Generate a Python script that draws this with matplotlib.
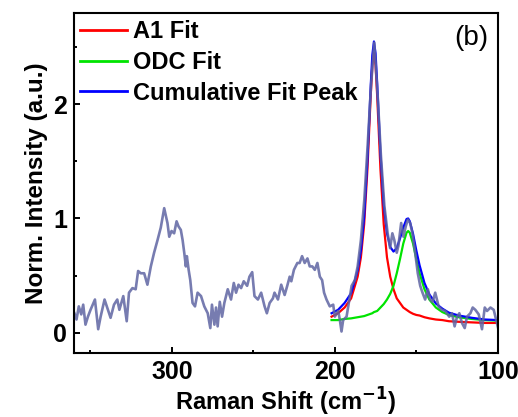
import matplotlib
matplotlib.use("Agg")
import matplotlib.pyplot as plt
from matplotlib.ticker import MultipleLocator

plt.rcParams['font.family'] = ['Liberation Sans', 'DejaVu Sans']

raman_x = [359.8, 358.5, 357.1, 355.6, 354.4, 353.0, 351.5, 349.9, 347.2, 345.2,
           343.7, 341.3, 339.2, 337.6, 335.5, 333.5, 332.2, 329.8, 327.7, 326.3,
           324.2, 322.2, 320.7, 319.1, 317.0, 315.0, 312.9, 310.9, 308.8, 306.8,
           304.7, 302.7, 301.6, 300.2, 298.6, 297.1, 295.9, 294.5, 293.4, 292.4,
           291.4, 290.8, 289.7, 288.7, 287.3, 285.8, 284.2, 282.1, 280.1, 278.0,
           276.4, 275.4, 273.9, 272.9, 271.9, 270.6, 269.2, 267.8, 265.7, 263.7,
           262.0, 260.6, 259.1, 257.5, 255.9, 253.8, 252.4, 250.7, 249.3, 247.2,
           245.2, 243.1, 241.7, 240.0, 238.0, 237.0, 234.9, 232.9, 230.8, 229.2,
           227.7, 226.7, 225.1, 223.0, 221.6, 220.1, 218.5, 216.8, 215.4, 213.8,
           212.3, 210.7, 209.2, 207.8, 206.6, 205.1, 203.1, 201.0, 200.0, 197.9,
           196.9, 195.9, 194.9, 192.8, 191.4, 189.7, 187.7, 186.0, 184.0, 181.9,
           179.9, 177.8, 175.8, 173.7, 171.7, 169.6, 167.6, 166.1, 164.7, 163.5,
           162.0, 161.0, 159.3, 157.9, 156.5, 155.2, 153.8, 152.4, 150.7, 149.1,
           147.6, 146.2, 144.6, 142.9, 141.5, 140.0, 138.4, 136.3, 134.3, 132.2,
           129.8, 128.1, 126.5, 125.0, 123.6, 122.0, 120.3, 118.9, 116.8, 115.4,
           113.8, 111.7, 109.7, 108.0, 106.6, 104.5, 102.5, 101.0, 99.8]
raman_y = [0.17, 0.115, 0.23, 0.16, 0.245, 0.07, 0.14, 0.20, 0.29, 0.03,
           0.14, 0.29, 0.20, 0.13, 0.245, 0.29, 0.20, 0.32, 0.10, 0.35,
           0.39, 0.38, 0.54, 0.52, 0.52, 0.42, 0.58, 0.70, 0.81, 0.92,
           1.09, 0.96, 0.84, 0.89, 0.87, 0.975, 0.93, 0.90, 0.81, 0.70,
           0.58, 0.67, 0.55, 0.46, 0.26, 0.23, 0.35, 0.32, 0.23, 0.17,
           0.04, 0.245, 0.07, 0.22, 0.055, 0.27, 0.14, 0.26, 0.38, 0.29,
           0.435, 0.35, 0.42, 0.39, 0.45, 0.41, 0.49, 0.53, 0.32, 0.29,
           0.35, 0.23, 0.17, 0.26, 0.30, 0.35, 0.29, 0.42, 0.33, 0.41,
           0.49, 0.45, 0.55, 0.61, 0.61, 0.67, 0.61, 0.65, 0.58, 0.58,
           0.55, 0.61, 0.49, 0.46, 0.35, 0.29, 0.23, 0.245, 0.14, 0.19,
           0.11, 0.01, 0.11, 0.14, 0.26, 0.41, 0.46, 0.58, 0.81, 1.165,
           1.63, 2.16, 2.54, 2.07, 1.545, 1.11, 0.87, 0.74, 0.87, 0.81,
           0.70, 0.76, 0.96, 0.84, 0.93, 0.99, 0.96, 0.87, 0.70, 0.52,
           0.41, 0.35, 0.29, 0.38, 0.29, 0.27, 0.35, 0.23, 0.20, 0.19,
           0.14, 0.17, 0.055, 0.14, 0.17, 0.085, 0.04, 0.14, 0.17, 0.22,
           0.20, 0.16, 0.03, 0.22, 0.19, 0.22, 0.20, 0.11, 0.04]

# fitted curves
fit_x = [202, 198, 194, 190, 186, 184, 182, 180, 178, 177, 176, 175, 174, 172,
         170, 168, 166, 164, 162, 160, 158, 156, 155, 154, 152, 150, 148, 145,
         142, 138, 134, 130, 124, 116, 108, 100]
a1_fit = [0.14, 0.17, 0.22, 0.30, 0.49, 0.66, 0.95, 1.43, 2.07, 2.34, 2.45, 2.34,
          2.07, 1.43, 0.95, 0.66, 0.49, 0.38, 0.30, 0.26, 0.22, 0.20, 0.19, 0.18,
          0.165, 0.155, 0.15, 0.135, 0.125, 0.115, 0.11, 0.10, 0.095, 0.09,
          0.085, 0.085]
odc_fit = [0.11, 0.11, 0.12, 0.125, 0.135, 0.14, 0.145, 0.155, 0.165, 0.17, 0.18,
           0.185, 0.19, 0.22, 0.25, 0.29, 0.34, 0.41, 0.52, 0.645, 0.78, 0.875,
           0.89, 0.875, 0.78, 0.645, 0.52, 0.38, 0.29, 0.22, 0.18, 0.155, 0.135,
           0.12, 0.11, 0.105]
cum_fit = [0.17, 0.20, 0.26, 0.345, 0.545, 0.72, 1.015, 1.505, 2.155, 2.43, 2.55,
           2.445, 2.18, 1.57, 1.12, 0.87, 0.75, 0.71, 0.74, 0.825, 0.92, 0.995,
           1.0, 0.975, 0.865, 0.72, 0.59, 0.435, 0.335, 0.255, 0.21, 0.175, 0.15,
           0.13, 0.115, 0.11]

fig = plt.figure(figsize=(5.18, 4.17), dpi=100)
ax = fig.add_axes([0.143, 0.153, 0.818, 0.816])

ax.plot(fit_x, a1_fit, color='#ff0000', lw=1.6, label='A1 Fit')
ax.plot(fit_x, odc_fit, color='#00e400', lw=1.6, label='ODC Fit')
ax.plot(fit_x, cum_fit, color='#0000ff', lw=1.6, label='Cumulative Fit Peak')
ax.plot(raman_x, raman_y, color='#5f65a3', lw=1.9, alpha=0.85)

ax.set_xlim(360, 100)
ax.set_ylim(-0.18, 2.8)
ax.xaxis.set_major_locator(MultipleLocator(100))
ax.xaxis.set_minor_locator(MultipleLocator(50))
ax.yaxis.set_major_locator(MultipleLocator(1))
ax.yaxis.set_minor_locator(MultipleLocator(0.5))
ax.tick_params(which='both', direction='in', width=1.4, top=False, right=False,
               labelsize=18, pad=5)
ax.tick_params(which='major', length=4.5)
ax.tick_params(which='minor', length=2.5)
for lab in ax.get_xticklabels() + ax.get_yticklabels():
    lab.set_fontweight('bold')
for sp in ax.spines.values():
    sp.set_linewidth(1.5)

ax.set_xlabel('Raman Shift (cm$^{\\mathbf{-1}}$)', fontsize=17, fontweight='bold', labelpad=1)
ax.set_ylabel('Norm. Intensity (a.u.)', fontsize=17.5, fontweight='bold', labelpad=4)

leg = ax.legend(loc='upper left', bbox_to_anchor=(0.014, 0.978), frameon=False,
                prop={'size': 17, 'weight': 'bold'}, handlelength=2.0,
                handletextpad=0.25, labelspacing=0.32, borderpad=0, borderaxespad=0)
for h in leg.get_lines():
    h.set_linewidth(2.0)

ax.text(0.938, 0.926, '(b)', transform=ax.transAxes, fontsize=20,
        ha='center', va='center')

fig.savefig('out.png', dpi=100)
